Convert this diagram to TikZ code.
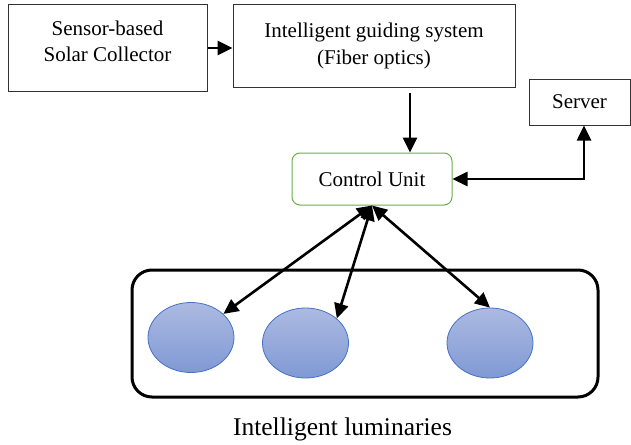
\documentclass[tikz,border=0pt]{standalone}
\usepackage{fontspec}
\setmainfont{Liberation Serif}
\usetikzlibrary{arrows.meta,shapes.geometric}
\definecolor{cugreen}{RGB}{112,173,71}
\definecolor{elltop}{RGB}{172,186,226}
\definecolor{ellbot}{RGB}{128,153,212}
\definecolor{elldraw}{RGB}{68,114,196}
\definecolor{boxline}{RGB}{50,50,50}
\tikzset{
  boxnode/.style={draw=boxline, line width=1pt, rectangle, inner sep=0pt, align=center,
    font=\fontsize{21}{26.5}\selectfont},
  cunode/.style={draw=cugreen, line width=1pt, rounded corners=8pt, inner sep=0pt,
    font=\fontsize{21}{26.5}\selectfont},
  lum/.style={ellipse, draw=elldraw, line width=0.8pt, top color=elltop, bottom color=ellbot,
    minimum width=86pt, minimum height=70pt, inner sep=0pt},
  arr/.style={line width=2.6pt, -{Triangle[length=15pt,width=14pt]}},
  darr/.style={line width=2.6pt, {Triangle[length=15pt,width=14pt]}-{Triangle[length=15pt,width=14pt]}},
}
\begin{document}
\begin{tikzpicture}[x=1pt,y=-1pt]
\useasboundingbox[fill=white] (0,0) rectangle (631,444);
\node[boxnode, minimum width=199pt, minimum height=86pt, text depth=14pt] (b1) at (107.5,48) {Sensor-based\\Solar Collector};
\node[boxnode, minimum width=282pt, minimum height=82pt] (b2) at (374,46) {Intelligent guiding system\\(Fiber optics)};
\node[boxnode, minimum width=101pt, minimum height=46pt] (srv) at (579.5,102) {Server};
\node[cunode, minimum width=160pt, minimum height=52pt] (cu) at (372,179) {Control Unit};
\node[draw, line width=3pt, rounded corners=20pt, minimum width=466pt, minimum height=127pt, inner sep=0pt] (grp) at (365,333.5) {};
\node[lum] (e1) at (191,337.5) {};
\node[lum] (e2) at (305.5,343) {};
\node[lum] (e3) at (490,343) {};
\node[font=\fontsize{25.5}{30}\selectfont, anchor=base] (lbl) at (342.5,435) {Intelligent luminaries};
\draw[arr] (b1.east) -- (b1.east -| b2.west);
\draw[arr] ([xshift=36pt,yshift=-5pt]b2.south) -- ([xshift=36pt]b2.south |- cu.north);
\draw[darr] (cu.east) -| ([xshift=4.5pt]srv.south);
\draw[darr] (cu.south) -- (e1);
\draw[darr] (cu.south) -- (e2.38);
\draw[darr] (cu.south) -- (e3.north);
\end{tikzpicture}
\end{document}
